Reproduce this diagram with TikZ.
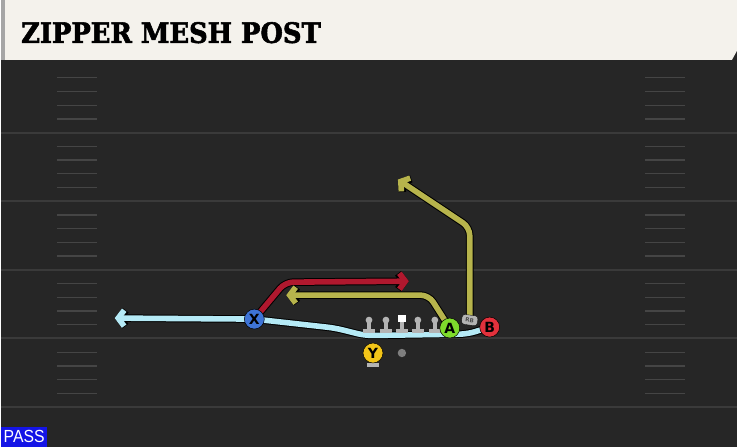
\documentclass[tikz,border=0pt]{standalone}
\usepackage{fontspec}
\setmainfont{DejaVu Sans}
\newfontfamily\titlefont[FakeStretch=0.92,FakeBold=2]{DejaVu Serif}
\newfontfamily\tagfont[FakeStretch=0.9]{Liberation Sans}
\usetikzlibrary{arrows.meta}
\pgfdeclarelayer{field}
\pgfdeclarelayer{routes}
\pgfsetlayers{field,routes,main}
\definecolor{turf}{HTML}{262626}
\definecolor{yard}{HTML}{3A3A3A}
\definecolor{hash}{HTML}{454545}
\definecolor{paper}{HTML}{F4F2EC}
\definecolor{xblue}{HTML}{3E74D6}
\definecolor{agreen}{HTML}{7EDB2C}
\definecolor{bred}{HTML}{E2313C}
\definecolor{ygold}{HTML}{F3C518}
\definecolor{sky}{HTML}{B5EAF6}
\definecolor{crimson}{HTML}{B0182E}
\definecolor{olive}{HTML}{B7B44C}
\definecolor{stance}{HTML}{B4B4B4}
\definecolor{passblue}{HTML}{1414E6}

\begin{document}
\begin{tikzpicture}[x=0.05cm,y=-0.05cm]
		\tikzstyle{Player}   = [circle, draw=black, line width=0.7pt, minimum size=1.0cm, inner sep=0pt, font=\bfseries\fontsize{20}{20}\selectfont]
		\tikzstyle{Route}    = [line width=0.28cm, rounded corners=0.4cm, preaction={draw=black, line width=0.38cm}]
		\tikzstyle{RouteEnd} = [-{Straight Barb[length=0.3cm,width=0.8cm]}]
		\tikzstyle{Head}     = [circle, fill=stance, minimum size=0.34cm, inner sep=0pt]

		\begin{pgfonlayer}{field}
		\fill[turf] (0,0) rectangle (738,448);
		\foreach \L in {64.2,133,201.8,270.6,339.4}{
			\foreach \j in {1,...,4}{
				\draw[hash, line width=1.8pt] (56,\L+13.76*\j) -- (96,\L+13.76*\j);
				\draw[hash, line width=1.8pt] (646,\L+13.76*\j) -- (686,\L+13.76*\j);
			}
		}
		\foreach \L in {133,201.8,270.6,339.4,408.2}
			\draw[yard, line width=3pt] (0,\L) -- (738,\L);

		\fill[black!85] (0,60) rectangle (738,65);
		\fill[paper] (0,0) -- (738,0) -- (738,51) -- (733,60) -- (0,60) -- cycle;
		\fill[black!35] (0,0) rectangle (4,60);
		\end{pgfonlayer}

		\node[anchor=base west, inner sep=0pt, font=\titlefont\bfseries\fontsize{40}{40}\selectfont] (title) at (20,43) {ZIPPER MESH POST};
		\node[fill=passblue, text=white, anchor=south west, minimum width=2.3cm, minimum height=1cm, inner sep=0pt, font=\tagfont\fontsize{25}{25}\selectfont] (pass) at (0,448) {PASS};

		\foreach \n/\x in {lt/369,lg/386,rg/418,rt/435}{
			\fill[stance] (\x-2,320) rectangle (\x+2,331);
			\fill[stance] (\x-6,330) rectangle (\x+6,334);
			\node[Head] (\n) at (\x,321) {};
		}
		\fill[stance] (400,320) rectangle (404,331);
		\fill[stance] (396,330) rectangle (408,334);
		\node[fill=white, minimum size=0.36cm, inner sep=0pt] (C) at (402,319) {};

		\fill[stance] (371,358) rectangle (375,365);
		\fill[stance] (367,364) rectangle (379,368);
		\node[circle, fill=stance!70!black, minimum size=0.42cm, inner sep=0pt] (QB) at (402,354) {};

		\coordinate (Xend) at (114,319);
		\coordinate (Aend) at (286,296);
		\coordinate (Rend) at (409,282);
		\coordinate (RBend) at (398,180);

		\node[rounded corners=0.15cm, fill=stance, draw=black, line width=0.4pt, minimum width=0.8cm, minimum height=0.5cm, inner sep=0pt, rotate=-8, font=\bfseries\fontsize{8}{8}\selectfont, text=black!70] (RB) at (470,321) {RB};
		\node[Player, fill=xblue]  (X) at (254,320) {X};
		\node[Player, fill=agreen] (A) at (450,329) {A};
		\node[Player, fill=bred]   (B) at (490,328) {B};
		\node[Player, fill=ygold]  (Y) at (373,354) {Y};

		\begin{pgfonlayer}{routes}
		\draw[Route, RouteEnd, sky] (B.center) -- (468,335) -- (365,336.5) -- (335,329) -- (X.center) -- (Xend);
		\draw[Route, RouteEnd, crimson] (X.center) -- (285,283) -- (Rend);
		\draw[Route, RouteEnd, olive] (A.center) -- (429,296) -- (Aend);
		\draw[Route, RouteEnd, olive] (RB.center) -- (470,228) -- (RBend);
		\end{pgfonlayer}
	\end{tikzpicture}
\end{document}
